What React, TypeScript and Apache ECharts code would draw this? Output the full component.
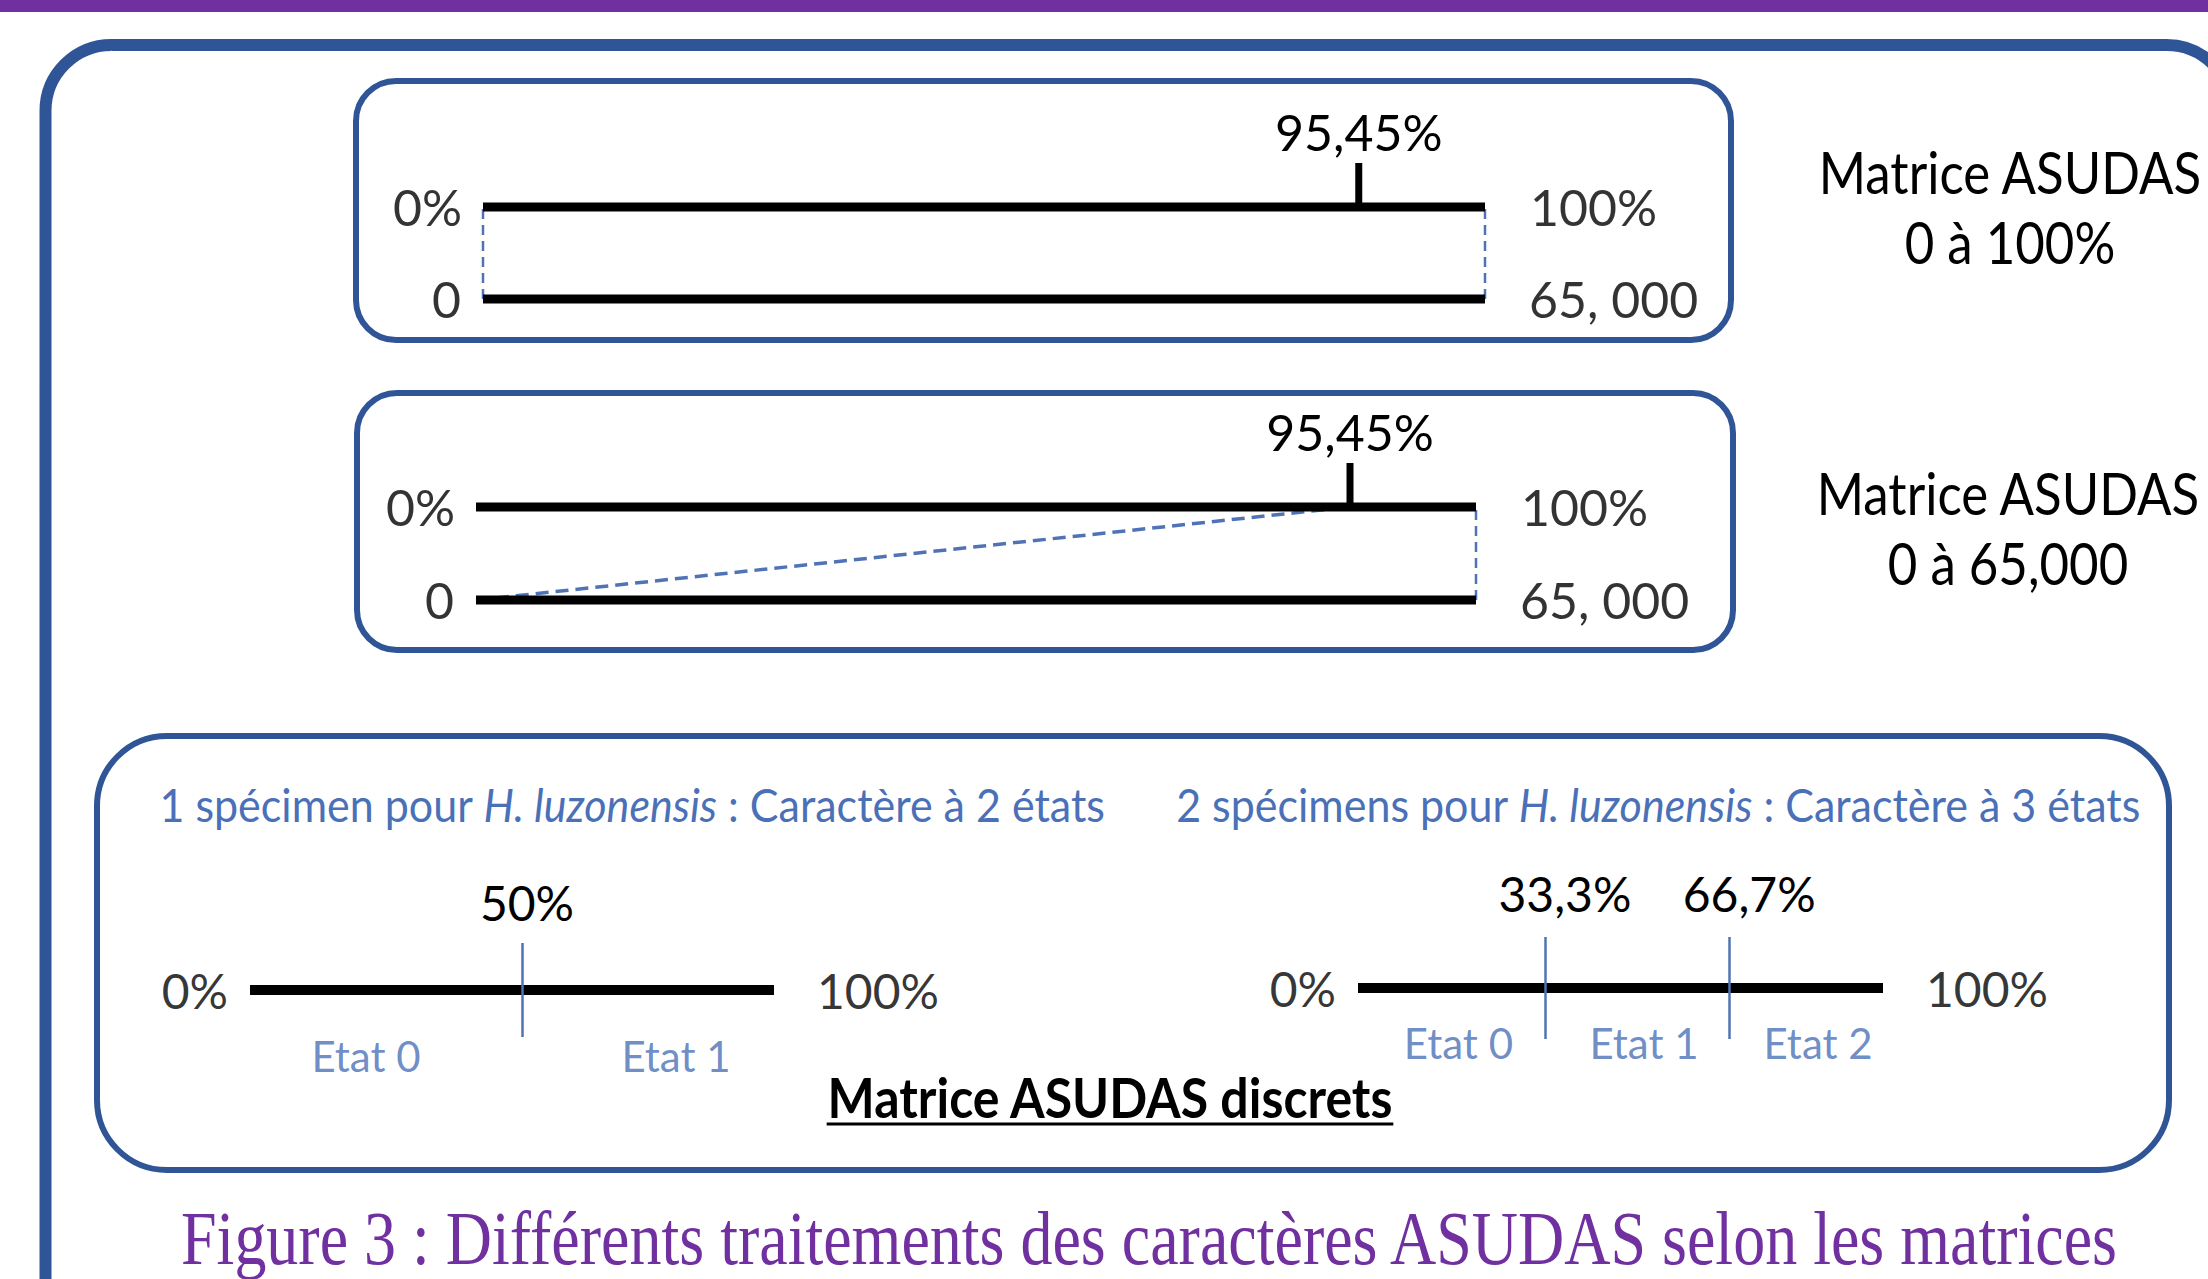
import React, { useEffect, useRef } from "react";
import * as echarts from "echarts";

// ---------- data ----------
const SCALE_START = 0;
const SCALE_END = 100;
const PERCENT_ENDS = ["0%", "100%"];
const RAW_ENDS = ["0", "65, 000"];
// position of the 95,45% mark along the scale, as drawn in the figure
const THRESHOLD_POS = 87.4;
const THRESHOLD_LABEL = "95,45%";
const MATRIX_NAMES = ["Matrice ASUDAS", "Matrice ASUDAS"];
const MATRIX_RANGES = ["0 à 100%", "0 à 65,000"];

const TWO_STATE_TITLE = ["1 spécimen pour ", "H. luzonensis", " : Caractère à 2 états"];
const TWO_STATE_CUTS = [51.9];
const TWO_STATE_CUT_LABELS = ["50%"];
const TWO_STATE_NAMES = ["Etat 0", "Etat 1"];

const THREE_STATE_TITLE = ["2 spécimens pour ", "H. luzonensis", " : Caractère à 3 états"];
const THREE_STATE_CUTS = [35.6, 70.7];
const THREE_STATE_CUT_LABELS = ["33,3%", "66,7%"];
const THREE_STATE_NAMES = ["Etat 0", "Etat 1", "Etat 2"];

const DISCRETE_HEADING = "Matrice ASUDAS discrets";
const CAPTION = "Figure 3 : Différents traitements des caractères ASUDAS selon les matrices";

// ---------- style ----------
const FONT = "Lato, 'Open Sans', sans-serif";
const SERIF = "'Liberation Serif', 'DejaVu Serif', serif";
const BOX_BLUE = "#2F5597";
const TEXT_BLUE = "#4A70B8";
const DASH_BLUE = "#4F73B5";
const PURPLE = "#7030A0";
// horizontal nudges (px) of the state labels, per discrete scale
const TWO_STATE_LABEL_NUDGE = [-20, 28];
const THREE_STATE_LABEL_NUDGE = [7, 7, 12];

function midpoints(cuts: number[]) {
  const b = [SCALE_START, ...cuts, SCALE_END];
  const m: number[] = [];
  for (let i = 0; i < b.length - 1; i++) m.push((b[i] + b[i + 1]) / 2);
  return m;
}

function endLabels(gi: number, y: number, texts: string[], fontSize: number, dl: number, dr: number) {
  return {
    type: "scatter",
    xAxisIndex: gi,
    yAxisIndex: gi,
    symbolSize: 0,
    silent: true,
    clip: false,
    z: 6,
    label: { show: true, color: "#000", fontSize, fontFamily: FONT },
    data: [
      { value: [SCALE_START, y], label: { position: "left", distance: dl, formatter: texts[0] } },
      { value: [SCALE_END, y], label: { position: "right", distance: dr, formatter: texts[1] } },
    ],
  };
}

function thickLine(gi: number, y: number, width: number, extra: any = {}) {
  return {
    type: "line",
    xAxisIndex: gi,
    yAxisIndex: gi,
    symbol: "none",
    silent: true,
    clip: false,
    z: 4,
    lineStyle: { color: "#000", width, cap: "butt" },
    data: [
      [SCALE_START, y],
      [SCALE_END, y],
    ],
    ...extra,
  };
}

function dashed(gi: number, pts: number[][], width: number, dash: number[]) {
  return {
    type: "line",
    xAxisIndex: gi,
    yAxisIndex: gi,
    symbol: "none",
    silent: true,
    clip: false,
    z: 3,
    lineStyle: { color: DASH_BLUE, width, type: dash },
    data: pts,
  };
}

function continuousSeries(gi: number, diagonal: boolean) {
  const thresholdMark = {
    markPoint: {
      silent: true,
      symbol: "rect",
      symbolSize: [7, 44],
      symbolOffset: [0, -22],
      itemStyle: { color: "#000" },
      label: {
        show: true,
        position: "top",
        distance: 6,
        color: "#000",
        fontSize: 50,
        fontFamily: FONT,
        formatter: THRESHOLD_LABEL,
      },
      data: [{ coord: [THRESHOLD_POS, 1] }],
    },
  };
  const conn = diagonal
    ? [
        dashed(
          gi,
          [
            [SCALE_START, 0],
            [THRESHOLD_POS, 1],
          ],
          3.5,
          [13, 7]
        ),
        dashed(
          gi,
          [
            [SCALE_END, 0],
            [SCALE_END, 1],
          ],
          2.5,
          [10, 6]
        ),
      ]
    : [
        dashed(
          gi,
          [
            [SCALE_START, 0],
            [SCALE_START, 1],
          ],
          2.5,
          [10, 6]
        ),
        dashed(
          gi,
          [
            [SCALE_END, 0],
            [SCALE_END, 1],
          ],
          2.5,
          [10, 6]
        ),
      ];
  return [
    ...conn,
    thickLine(gi, 1, 9, thresholdMark),
    thickLine(gi, 0, 9),
    endLabels(gi, 1, PERCENT_ENDS, 50, 21, 45),
    endLabels(gi, 0, RAW_ENDS, 50, 22, 44),
  ];
}

function discreteSeries(
  gi: number,
  cuts: number[],
  cutLabels: string[],
  names: string[],
  stateDist: number,
  cutDist: number,
  cutNudge: number,
  nudges: number[]
) {
  const mids = midpoints(cuts);
  return [
    thickLine(gi, 0, 10, {
      markLine: {
        silent: true,
        symbol: ["none", "none"],
        lineStyle: { color: DASH_BLUE, width: 2.5, type: "solid" },
        label: {
          show: true,
          position: "end",
          distance: cutDist,
          offset: [cutNudge, 0],
          color: "#000",
          fontSize: 48,
          fontFamily: FONT,
        },
        data: cuts.map((c, i) => ({ xAxis: c, label: { formatter: cutLabels[i] } })),
      },
    }),
    endLabels(gi, 0, PERCENT_ENDS, 48, 22, 43),
    {
      type: "scatter",
      xAxisIndex: gi,
      yAxisIndex: gi,
      symbolSize: 0,
      silent: true,
      clip: false,
      label: {
        show: true,
        position: "bottom",
        distance: stateDist,
        color: TEXT_BLUE,
        fontSize: 42,
        fontFamily: FONT,
      },
      data: mids.map((m, i) => ({
        value: [m, 0],
        label: { formatter: names[i], offset: [nudges[i] || 0, 0] },
      })),
    },
  ];
}

function measure(text: string, font: string) {
  const c = document.createElement("canvas").getContext("2d");
  if (!c) return text.length * 20;
  c.font = font;
  return c.measureText(text).width;
}

export default function App() {
  const ref = useRef<HTMLDivElement>(null);
  useEffect(() => {
    document.body.style.margin = "0";
    document.body.style.overflow = "hidden";
    if (!ref.current) return;
    const chart = echarts.init(ref.current, undefined, { renderer: "svg" });

    const grids = [
      { left: 483, top: 207, width: 1002, height: 92 },
      { left: 476, top: 507, width: 1000, height: 93 },
      { left: 250, top: 943, width: 524, height: 94 },
      { left: 1358, top: 937, width: 525, height: 102 },
    ];
    const xAxis = grids.map((_, i) => ({ type: "value", gridIndex: i, min: SCALE_START, max: SCALE_END, show: false }));
    const yAxis = grids.map((_, i) => ({ type: "value", gridIndex: i, min: i < 2 ? 0 : -1, max: 1, show: false }));

    const headingFont = `bold 50px ${FONT}`;
    const headingW = measure(DISCRETE_HEADING, headingFont);
    const headingX = 1110;
    const headingY = 1097;

    const subStyle = (parts: string[], x: number) => ({
      type: "text",
      x,
      y: 804,
      scaleY: 1.1,
      style: {
        text: `${parts[0]}{it|${parts[1]}}${parts[2]}`,
        fill: TEXT_BLUE,
        fontSize: 43,
        fontFamily: FONT,
        align: "center",
        verticalAlign: "middle",
        rich: { it: { fontStyle: "italic", fill: TEXT_BLUE, fontSize: 43, fontFamily: FONT } },
      },
    });

    const rightTitle = (t: string, x: number, y: number) => ({
      type: "text",
      x,
      y,
      scaleY: 1.12,
      style: { text: t, fill: "#000", fontSize: 51, fontFamily: FONT, align: "center", verticalAlign: "middle" },
    });

    const option: any = {
      animation: false,
      backgroundColor: "#fff",
      grid: grids,
      xAxis,
      yAxis,
      series: [
        ...continuousSeries(0, false),
        ...continuousSeries(1, true),
        ...discreteSeries(2, TWO_STATE_CUTS, TWO_STATE_CUT_LABELS, TWO_STATE_NAMES, 45, 17, 5, TWO_STATE_LABEL_NUDGE),
        ...discreteSeries(3, THREE_STATE_CUTS, THREE_STATE_CUT_LABELS, THREE_STATE_NAMES, 34, 20, 20, THREE_STATE_LABEL_NUDGE),
      ],
      graphic: [
        { type: "rect", shape: { x: 0, y: 0, width: 2208, height: 12 }, style: { fill: PURPLE }, z: 10 },
        {
          type: "rect",
          shape: { x: 45.5, y: 45, width: 2187, height: 1400, r: 66 },
          style: { fill: "none", stroke: BOX_BLUE, lineWidth: 12 },
        },
        {
          type: "rect",
          shape: { x: 356, y: 81, width: 1375, height: 259, r: 40 },
          style: { fill: "none", stroke: BOX_BLUE, lineWidth: 6 },
        },
        {
          type: "rect",
          shape: { x: 357, y: 393, width: 1376, height: 257, r: 40 },
          style: { fill: "none", stroke: BOX_BLUE, lineWidth: 6 },
        },
        {
          type: "rect",
          shape: { x: 97, y: 736, width: 2072, height: 434, r: 70 },
          style: { fill: "none", stroke: BOX_BLUE, lineWidth: 6 },
        },
        rightTitle(MATRIX_NAMES[0], 2010, 172),
        rightTitle(MATRIX_RANGES[0], 2010, 242),
        rightTitle(MATRIX_NAMES[1], 2008, 493),
        rightTitle(MATRIX_RANGES[1], 2008, 563),
        subStyle(TWO_STATE_TITLE, 632),
        subStyle(THREE_STATE_TITLE, 1658),
        {
          type: "text",
          x: headingX,
          y: headingY,
          scaleY: 1.1,
          style: {
            text: DISCRETE_HEADING,
            fill: "#000",
            fontSize: 50,
            fontWeight: "bold",
            fontFamily: FONT,
            align: "center",
            verticalAlign: "middle",
          },
        },
        {
          type: "line",
          shape: { x1: headingX - headingW / 2, y1: 1124, x2: headingX + headingW / 2, y2: 1124 },
          style: { stroke: "#000", lineWidth: 3 },
        },
        {
          type: "text",
          x: 1149,
          y: 1238,
          scaleY: 1.2,
          style: {
            text: CAPTION,
            fill: PURPLE,
            fontSize: 64,
            fontFamily: SERIF,
            align: "center",
            verticalAlign: "middle",
          },
        },
      ],
    };
    chart.setOption(option);
    return () => chart.dispose();
  }, []);
  return <div ref={ref} style={{ width: 2208, height: 1279 }} />;
}
